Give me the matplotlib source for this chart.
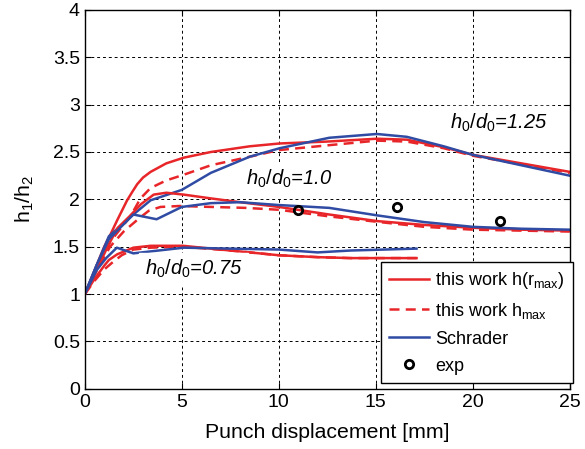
import numpy as np
import matplotlib
matplotlib.use('Agg')
import matplotlib.pyplot as plt

plt.rcParams['font.family'] = ['Liberation Sans', 'DejaVu Sans']
plt.rcParams['mathtext.fontset'] = 'custom'
plt.rcParams['mathtext.rm'] = 'Liberation Sans'
plt.rcParams['mathtext.it'] = 'Liberation Sans:italic'

# ***Data***
# h0/d0 = 1.25
x125_red = [0, 0.5, 1.0, 1.3, 1.67, 2.18, 2.45, 2.7, 3.0, 3.39, 4.2, 5.1, 6.5, 8.5, 10.05, 12.5, 15.05, 16.6, 18.5, 20, 22.5, 25]
y125_red = [1, 1.25, 1.5, 1.62, 1.78, 1.99, 2.08, 2.16, 2.23, 2.29, 2.38, 2.44, 2.5, 2.56, 2.59, 2.61, 2.64, 2.63, 2.55, 2.47, 2.38, 2.29]
x125_dash = [0, 0.7, 1.3, 1.8, 2.35, 2.87, 3.39, 4.2, 5.1, 6.5, 8.5, 10.0, 12.5, 15.05, 16.6, 18.5, 20, 22.5, 25]
y125_dash = [1, 1.3, 1.55, 1.68, 1.82, 2.01, 2.12, 2.2, 2.26, 2.36, 2.45, 2.52, 2.57, 2.62, 2.61, 2.54, 2.46, 2.37, 2.28]
x125_blue = [0, 0.6, 1.24, 2.5, 3.39, 5.0, 6.5, 8.5, 10.05, 12.6, 15.05, 16.6, 18.5, 20, 22.5, 25]
y125_blue = [1, 1.3, 1.61, 1.84, 1.99, 2.1, 2.28, 2.45, 2.54, 2.65, 2.69, 2.66, 2.56, 2.47, 2.36, 2.25]

# h0/d0 = 1.0
x10_red = [0, 0.7, 1.3, 1.7, 2.3, 2.9, 3.55, 4.2, 5.1, 6.5, 8.0, 10.0, 12.6, 15.1, 17.5, 20, 22.5, 25]
y10_red = [1, 1.3, 1.55, 1.7, 1.82, 1.95, 2.05, 2.07, 2.05, 2.01, 1.97, 1.92, 1.84, 1.77, 1.73, 1.70, 1.68, 1.67]
x10_dash = [0, 0.7, 1.3, 2.0, 2.8, 3.3, 3.9, 4.9, 6.5, 8.3, 10.0, 12.6, 15.2, 17.5, 20, 22.5, 25]
y10_dash = [1, 1.28, 1.5, 1.66, 1.8, 1.88, 1.92, 1.93, 1.92, 1.91, 1.89, 1.82, 1.76, 1.71, 1.68, 1.67, 1.66]
x10_blue = [0, 0.6, 1.24, 2.5, 3.7, 5.0, 6.5, 8.0, 10.0, 12.6, 15.1, 17.5, 20, 22.5, 25]
y10_blue = [1, 1.3, 1.58, 1.84, 1.79, 1.92, 1.96, 1.97, 1.94, 1.91, 1.83, 1.76, 1.71, 1.69, 1.68]

# h0/d0 = 0.75
x075_red = [0, 0.5, 1.0, 1.24, 1.67, 2.5, 3.4, 5.05, 7.5, 10.0, 12.0, 13.7, 17.1]
y075_red = [1, 1.16, 1.3, 1.36, 1.42, 1.49, 1.51, 1.51, 1.46, 1.41, 1.39, 1.38, 1.38]
x075_dash = [0, 0.5, 1.0, 1.4, 1.9, 2.5, 3.4, 5.05, 7.5, 10.0, 12.0, 13.7, 17.1]
y075_dash = [1, 1.14, 1.26, 1.33, 1.41, 1.47, 1.49, 1.50, 1.46, 1.41, 1.39, 1.38, 1.38]
x075_blue = [0, 0.6, 1.1, 1.65, 2.5, 5.1, 7.5, 10.0, 12.0, 13.7, 17.1]
y075_blue = [1, 1.25, 1.38, 1.49, 1.43, 1.49, 1.48, 1.47, 1.44, 1.46, 1.48]

# experiments
x_exp = [11.0, 16.1, 21.4]
y_exp = [1.89, 1.92, 1.77]

red = '#e8262a'
blue = '#2f4ba3'

fig = plt.figure(figsize=(5.85, 4.49), dpi=100)
ax = fig.add_axes([0.145, 0.134, 0.829, 0.844])

lw = 1.8
ax.plot(x125_red, y125_red, '-', color=red, lw=lw, label=r'this work h(r$_{\mathrm{max}}$)')
ax.plot(x125_dash, y125_dash, '--', color=red, lw=lw, dashes=(4, 2.5), label=r'this work h$_{\mathrm{max}}$')
ax.plot(x125_blue, y125_blue, '-', color=blue, lw=lw, label='Schrader')
ax.plot(x10_red, y10_red, '-', color=red, lw=lw)
ax.plot(x10_dash, y10_dash, '--', color=red, lw=lw, dashes=(4, 2.5))
ax.plot(x10_blue, y10_blue, '-', color=blue, lw=lw)
ax.plot(x075_red, y075_red, '-', color=red, lw=lw)
ax.plot(x075_dash, y075_dash, '--', color=red, lw=lw, dashes=(4, 2.5))
ax.plot(x075_blue, y075_blue, '-', color=blue, lw=lw)
ax.plot(x_exp, y_exp, 'o', mfc='none', mec='black', mew=2, ms=6, label='exp')

# Annotations
tkw = dict(fontsize=14.5, style='italic', backgroundcolor='white')
ax.text(18.8, 2.75, r'$h_0/d_0$=1.25', **tkw)
ax.text(8.3, 2.15, r'$h_0/d_0$=1.0', **tkw)
ax.text(3.1, 1.2, r'$h_0/d_0$=0.75', **tkw)

ax.set_xlim(0, 25)
ax.set_ylim(0, 4)
ax.set_xticks([0, 5, 10, 15, 20, 25])
ax.set_yticks([0, 0.5, 1, 1.5, 2, 2.5, 3, 3.5, 4])
ax.set_yticklabels(['0', '0.5', '1', '1.5', '2', '2.5', '3', '3.5', '4'])
ax.tick_params(direction='in', labelsize=14, top=True, right=True, length=4)
ax.grid(True, color='black', linestyle=(0, (3, 3)), linewidth=0.7)
ax.set_axisbelow(True)
for s in ax.spines.values():
    s.set_linewidth(1.0)

ax.set_xlabel('Punch displacement [mm]', fontsize=15.3, labelpad=9)
ax.set_ylabel(r'h$_1$/h$_2$', fontsize=15.3, labelpad=12)

leg = ax.legend(loc='lower right', bbox_to_anchor=(1.006, 0.016), fontsize=13,
                handlelength=2.2, handletextpad=0.35, borderaxespad=0,
                frameon=True, fancybox=False, edgecolor='black',
                framealpha=1, borderpad=0.45, labelspacing=0.55)
leg.get_frame().set_linewidth(1.0)

fig.savefig('out.png', dpi=100)
